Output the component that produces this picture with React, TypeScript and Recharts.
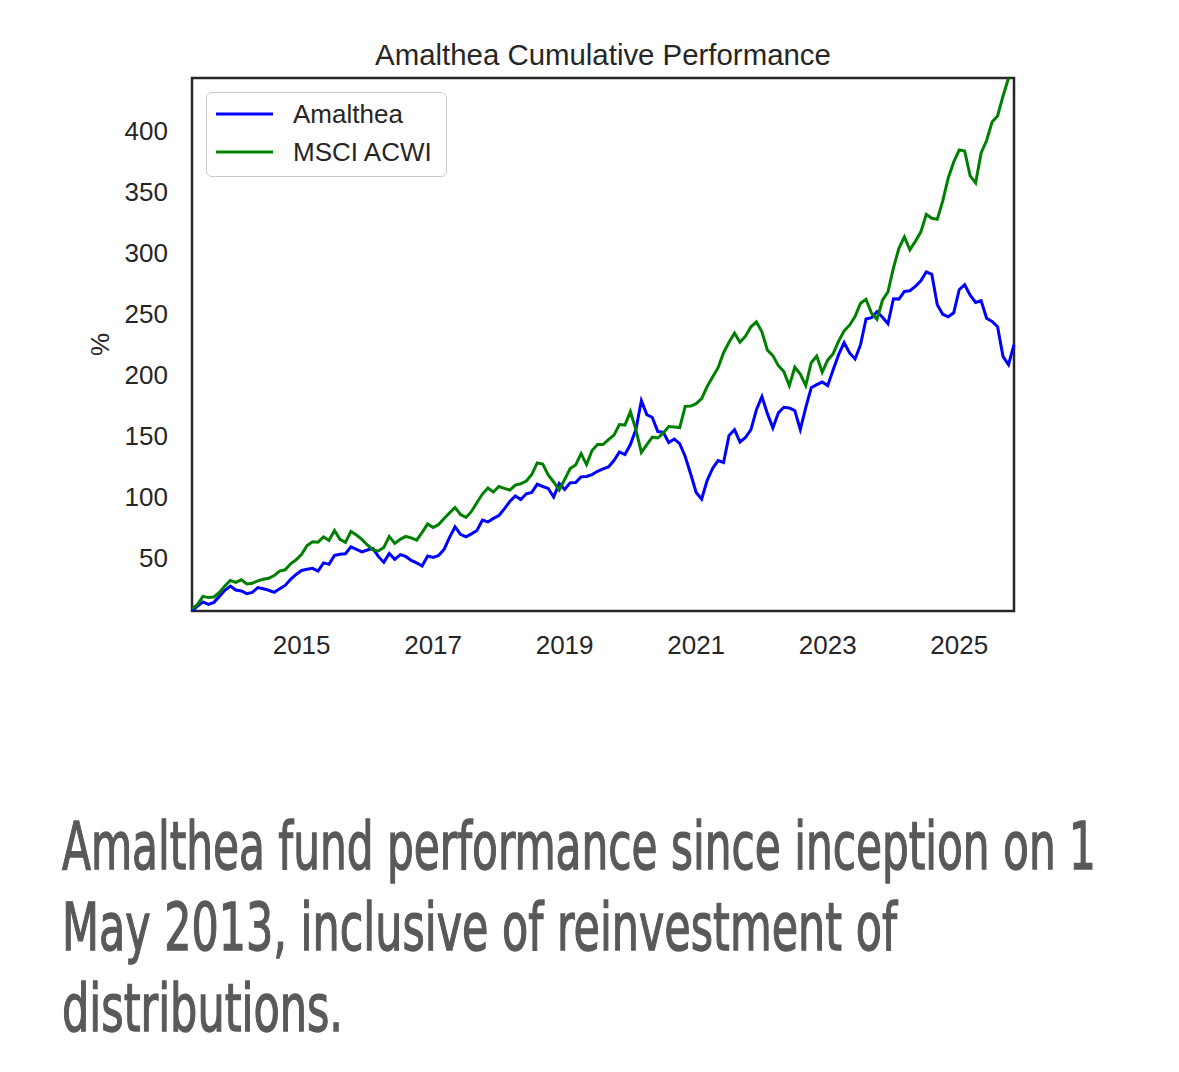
// Amalthea cumulative performance vs MSCI ACWI — line chart
import React from 'react';
import {
  LineChart,
  Line,
  XAxis,
  YAxis,
  Legend,
  ReferenceArea,
} from 'recharts';

// monthly observations, May 2013 .. Nov 2025
const START_YEAR = 2013;
const START_MONTH = 4; // May (0-based)

// cumulative return, %
const amalthea = [
  6, 10, 13.4, 11.5, 13.1, 18, 23, 26.5, 23.2, 22.5,
  20.2, 21.3, 25.2, 24.2, 23, 21.3, 24.2, 27, 32, 36,
  39.3, 40.2, 41, 38.8, 45.5, 44.3, 51.6, 52.5, 53, 58.6,
  56.6, 54.5, 56.1, 57.4, 50.8, 45.9, 53.3, 48.4, 52.3, 50.8,
  47.5, 45.5, 42.9, 51.2, 50, 51.6, 56.6, 66.4, 75, 68.9,
  66.8, 69.3, 72.1, 80.7, 79.1, 82, 84.4, 89.8, 95.9, 100.4,
  97.5, 102.2, 103.4, 110.2, 108.2, 106.6, 99.6, 110.7, 105.7, 111.2,
  111.5, 116.1, 116.4, 118, 120.7, 122.7, 124.2, 129.5, 136.5, 134.4,
  142.6, 154.9, 178.7, 167.2, 164.8, 153.3, 152.7, 144.3, 147.1, 143.4,
  132.8, 118.4, 103.3, 97.9, 113.1, 123, 129.5, 127.9, 150, 154.9,
  144.7, 148.4, 154.9, 171.3, 182, 168, 156.3, 168.6, 173.2, 172.7,
  170.5, 154.9, 172.9, 189.3, 191.8, 193.9, 191, 204.1, 216.4, 226.2,
  217.8, 212.9, 224.6, 245.7, 246.7, 251.6, 247.1, 241.8, 262.3, 262,
  268.3, 268.9, 272.4, 277, 284.4, 282.4, 257.4, 249.6, 247.5, 250.8,
  269.7, 273.8, 265.2, 259.3, 260.7, 246.3, 243.7, 239.3, 214.8, 208.2,
  224.6,
];

const msciAcwi = [
  7.8, 11.5, 18, 17, 17.5, 21.3, 26.6, 31.1, 29.5, 31.6,
  28.2, 28.7, 30.7, 32, 32.8, 35.1, 38.8, 39.8, 44.7, 48,
  52.5, 59.8, 62.9, 62.5, 66.8, 63.9, 72.1, 64.8, 62.3, 71.3,
  68.4, 64.8, 60.2, 56.1, 55.3, 58.2, 67.2, 61.5, 64.8, 67.2,
  66, 64.2, 70.5, 77.5, 74.6, 77, 82, 86.5, 91, 85.2,
  82.8, 87.7, 95.1, 102, 107, 103.7, 108.2, 106.6, 105.2, 109.4,
  110.4, 112.7, 118, 127.5, 126.6, 117.6, 111.9, 105.3, 113.9, 123,
  125.8, 135.2, 126.2, 137.7, 142.6, 142.6, 146.7, 150.4, 159, 158.6,
  169.7, 154.9, 136.1, 142.6, 148.8, 148, 152.2, 157.4, 157, 156.6,
  174, 174.2, 176.2, 180.3, 190.2, 198, 205.7, 218, 226.6, 234,
  226.6, 231.6, 239.3, 243.4, 235.2, 220.1, 215.6, 207.4, 202.5, 191,
  206.1, 200.4, 191, 209.8, 215.2, 202, 211.9, 217.2, 227.5, 236,
  240.6, 247.8, 258.6, 261.9, 250.4, 245.5, 261.1, 268, 287.7, 303.7,
  313.1, 302.5, 309.4, 317.2, 331.6, 328.4, 327.5, 342.6, 361.5, 374.6,
  384.4, 383.6, 363.1, 357.4, 382, 392.2, 407.4, 412.3, 428.7, 443.4,
  458,
];

const xTicks = [2015, 2017, 2019, 2021, 2023, 2025];
const yTicks = [50, 100, 150, 200, 250, 300, 350, 400];
const yDomain = [6, 443.5];

const captionLines = [
  'Amalthea fund performance since inception on 1',
  'May 2013, inclusive of reinvestment of',
  'distributions.',
];
const captionWidths = [1034, 835, 281];

// decimal-year position of each month
const months = amalthea.map(function (_, i) {
  return START_YEAR + (START_MONTH + i) / 12;
});

const data = months.map(function (t, i) {
  return { t, amalthea: amalthea[i], msci: msciAcwi[i] };
});

const FONT = '"Liberation Sans", Arial, Helvetica, sans-serif';
const CAPTION_FONT = '"Liberation Sans Narrow", "DejaVu Sans Condensed", "Liberation Sans", sans-serif';
const INK = '#262626';

function LegendBox() {
  const items = [
    { label: 'Amalthea', color: '#0000ff' },
    { label: 'MSCI ACWI', color: '#008000' },
  ];
  return (
    <div
      style={{
        width: 241,
        height: 85,
        boxSizing: 'border-box',
        border: '1.5px solid #cccccc',
        borderRadius: 6,
        background: '#fff',
        position: 'relative',
        fontFamily: FONT,
      }}
    >
      {items.map(function (it, i) {
        return (
          <div
            key={it.label}
            style={{ position: 'absolute', left: 0, top: 21 + i * 38 - 14, height: 28, width: 240 }}
          >
            <svg width={80} height={28} style={{ position: 'absolute', left: 0, top: 0 }}>
              <line x1={9} x2={66} y1={14} y2={14} stroke={it.color} strokeWidth={3} />
            </svg>
            <span
              style={{
                position: 'absolute',
                left: 86,
                top: 0,
                lineHeight: '28px',
                fontSize: 26,
                color: INK,
                whiteSpace: 'nowrap',
              }}
            >
              {it.label}
            </span>
          </div>
        );
      })}
    </div>
  );
}

function App() {
  return (
    <div
      style={{
        position: 'absolute',
        left: 0,
        top: 0,
        width: 1179,
        height: 1072,
        background: '#fff',
        overflow: 'hidden',
      }}
    >
      <LineChart
        width={1179}
        height={700}
        data={data}
        margin={{ top: 78, right: 165, bottom: 29, left: 0 }}
      >
        <XAxis
          dataKey="t"
          type="number"
          domain={[months[0], months[months.length - 1]]}
          ticks={xTicks}
          height={60}
          axisLine={false}
          tickLine={false}
          tickSize={0}
          tickMargin={25}
          tick={{ fill: INK, fontSize: 26, fontFamily: FONT }}
        />
        <YAxis
          type="number"
          domain={yDomain}
          allowDataOverflow
          ticks={yTicks}
          width={192}
          axisLine={false}
          tickLine={false}
          tickSize={0}
          tickMargin={24}
          tick={{ fill: INK, fontSize: 26, fontFamily: FONT }}
          label={{
            content: function (props: any) {
              const vb = props.viewBox;
              const cx = vb.x + 100;
              const cy = vb.y + vb.height / 2;
              return (
                <text
                  x={cx}
                  y={cy}
                  transform={`rotate(-90, ${cx}, ${cy})`}
                  textAnchor="middle"
                  dominantBaseline="central"
                  fill={INK}
                  fontSize={26}
                  fontFamily={FONT}
                >
                  %
                </text>
              );
            },
          }}
        />
        <Line
          dataKey="amalthea"
          type="linear"
          stroke="#0000ff"
          strokeWidth={3}
          dot={false}
          activeDot={false}
          isAnimationActive={false}
        />
        <Line
          dataKey="msci"
          type="linear"
          stroke="#008000"
          strokeWidth={3}
          dot={false}
          activeDot={false}
          isAnimationActive={false}
        />
        <ReferenceArea
          x1={months[0]}
          x2={months[months.length - 1]}
          y1={yDomain[0]}
          y2={yDomain[1]}
          fill="none"
          fillOpacity={0}
          stroke={INK}
          strokeWidth={2.5}
          ifOverflow="visible"
        />
        <Legend
          layout="vertical"
          align="center"
          verticalAlign="middle"
          content={<LegendBox />}
          wrapperStyle={{ left: 206, top: 92, width: 241, height: 85 }}
        />
      </LineChart>

      <svg
        width={1179}
        height={1072}
        style={{ position: 'absolute', left: 0, top: 0, pointerEvents: 'none' }}
      >
        <text
          x={603}
          y={65}
          textAnchor="middle"
          fill={INK}
          fontSize={29.4}
          fontFamily={FONT}
        >
          Amalthea Cumulative Performance
        </text>
        {captionLines.map(function (line, i) {
          return (
            <g key={i} transform={`translate(62, ${869 + i * 81}) scale(1, 1.45)`}>
              <text
                x={0}
                y={0}
                fill="#595959"
                stroke="#595959"
                strokeWidth={0.9}
                fontSize={45.5}
                fontFamily={CAPTION_FONT}
                textLength={captionWidths[i]}
                lengthAdjust="spacingAndGlyphs"
              >
                {line}
              </text>
            </g>
          );
        })}
      </svg>
    </div>
  );
}

export default App;
